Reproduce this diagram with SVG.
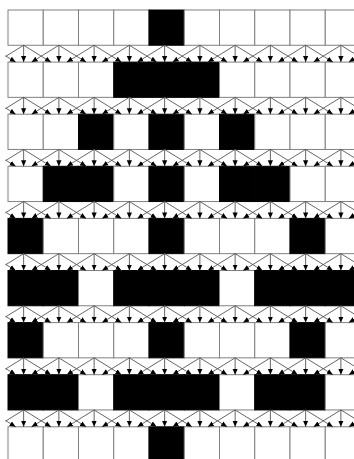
<svg xmlns="http://www.w3.org/2000/svg" xmlns:xlink="http://www.w3.org/1999/xlink" width="354" height="459" viewBox="0 0 354 459">
<style>
rect.w{fill:#fff;stroke:#808080;stroke-width:1}
rect.b{fill:#000;stroke:#000;stroke-width:1}
#band line{stroke:#555;stroke-width:0.9;marker-end:url(#ah)}
</style>
<defs>
<marker id="ah" markerWidth="6" markerHeight="6" refX="6" refY="3" orient="auto" markerUnits="userSpaceOnUse"><path d="M0,0.4L6,3L0,5.6z" fill="#000"/></marker>
<clipPath id="clip"><rect x="5.5" y="0" width="349" height="459"/></clipPath>
<g id="band">
<line x1="23.625" y1="0" x2="23.625" y2="16.85"/>
<line x1="58.875" y1="0" x2="58.875" y2="16.85"/>
<line x1="94.125" y1="0" x2="94.125" y2="16.85"/>
<line x1="129.375" y1="0" x2="129.375" y2="16.85"/>
<line x1="164.625" y1="0" x2="164.625" y2="16.85"/>
<line x1="199.875" y1="0" x2="199.875" y2="16.85"/>
<line x1="235.125" y1="0" x2="235.125" y2="16.85"/>
<line x1="270.375" y1="0" x2="270.375" y2="16.85"/>
<line x1="305.625" y1="0" x2="305.625" y2="16.85"/>
<line x1="340.875" y1="0" x2="340.875" y2="16.85"/>
<line x1="-11.625" y1="0" x2="15.625" y2="16.85"/>
<line x1="23.625" y1="0" x2="50.875" y2="16.85"/>
<line x1="58.875" y1="0" x2="86.125" y2="16.85"/>
<line x1="94.125" y1="0" x2="121.375" y2="16.85"/>
<line x1="129.375" y1="0" x2="156.625" y2="16.85"/>
<line x1="164.625" y1="0" x2="191.875" y2="16.85"/>
<line x1="199.875" y1="0" x2="227.125" y2="16.85"/>
<line x1="235.125" y1="0" x2="262.375" y2="16.85"/>
<line x1="270.375" y1="0" x2="297.625" y2="16.85"/>
<line x1="305.625" y1="0" x2="332.875" y2="16.85"/>
<line x1="340.875" y1="0" x2="368.125" y2="16.85"/>
<line x1="23.625" y1="0" x2="-3.625" y2="16.85"/>
<line x1="58.875" y1="0" x2="31.625" y2="16.85"/>
<line x1="94.125" y1="0" x2="66.875" y2="16.85"/>
<line x1="129.375" y1="0" x2="102.125" y2="16.85"/>
<line x1="164.625" y1="0" x2="137.375" y2="16.85"/>
<line x1="199.875" y1="0" x2="172.625" y2="16.85"/>
<line x1="235.125" y1="0" x2="207.875" y2="16.85"/>
<line x1="270.375" y1="0" x2="243.125" y2="16.85"/>
<line x1="305.625" y1="0" x2="278.375" y2="16.85"/>
<line x1="340.875" y1="0" x2="313.625" y2="16.85"/>
<line x1="376.125" y1="0" x2="348.875" y2="16.85"/>
</g>
</defs>
<rect width="354" height="459" fill="#fff"/>
<g id="cells">
<g id="r0c0"><rect class="w" x="8" y="10" width="35.25" height="35.25"/></g>
<g id="r0c1"><rect class="w" x="43.25" y="10" width="35.25" height="35.25"/></g>
<g id="r0c2"><rect class="w" x="78.5" y="10" width="35.25" height="35.25"/></g>
<g id="r0c3"><rect class="w" x="113.75" y="10" width="35.25" height="35.25"/></g>
<g id="r0c4"><rect class="b" x="149" y="10" width="35.25" height="35.25"/></g>
<g id="r0c5"><rect class="w" x="184.25" y="10" width="35.25" height="35.25"/></g>
<g id="r0c6"><rect class="w" x="219.5" y="10" width="35.25" height="35.25"/></g>
<g id="r0c7"><rect class="w" x="254.75" y="10" width="35.25" height="35.25"/></g>
<g id="r0c8"><rect class="w" x="290" y="10" width="35.25" height="35.25"/></g>
<g id="r0c9"><rect class="w" x="325.25" y="10" width="35.25" height="35.25"/></g>
<g id="r1c0"><rect class="w" x="8" y="62.1" width="35.25" height="35.25"/></g>
<g id="r1c1"><rect class="w" x="43.25" y="62.1" width="35.25" height="35.25"/></g>
<g id="r1c2"><rect class="w" x="78.5" y="62.1" width="35.25" height="35.25"/></g>
<g id="r1c3"><rect class="b" x="113.75" y="62.1" width="35.25" height="35.25"/></g>
<g id="r1c4"><rect class="b" x="149" y="62.1" width="35.25" height="35.25"/></g>
<g id="r1c5"><rect class="b" x="184.25" y="62.1" width="35.25" height="35.25"/></g>
<g id="r1c6"><rect class="w" x="219.5" y="62.1" width="35.25" height="35.25"/></g>
<g id="r1c7"><rect class="w" x="254.75" y="62.1" width="35.25" height="35.25"/></g>
<g id="r1c8"><rect class="w" x="290" y="62.1" width="35.25" height="35.25"/></g>
<g id="r1c9"><rect class="w" x="325.25" y="62.1" width="35.25" height="35.25"/></g>
<g id="r2c0"><rect class="w" x="8" y="114.2" width="35.25" height="35.25"/></g>
<g id="r2c1"><rect class="w" x="43.25" y="114.2" width="35.25" height="35.25"/></g>
<g id="r2c2"><rect class="b" x="78.5" y="114.2" width="35.25" height="35.25"/></g>
<g id="r2c3"><rect class="w" x="113.75" y="114.2" width="35.25" height="35.25"/></g>
<g id="r2c4"><rect class="b" x="149" y="114.2" width="35.25" height="35.25"/></g>
<g id="r2c5"><rect class="w" x="184.25" y="114.2" width="35.25" height="35.25"/></g>
<g id="r2c6"><rect class="b" x="219.5" y="114.2" width="35.25" height="35.25"/></g>
<g id="r2c7"><rect class="w" x="254.75" y="114.2" width="35.25" height="35.25"/></g>
<g id="r2c8"><rect class="w" x="290" y="114.2" width="35.25" height="35.25"/></g>
<g id="r2c9"><rect class="w" x="325.25" y="114.2" width="35.25" height="35.25"/></g>
<g id="r3c0"><rect class="w" x="8" y="166.3" width="35.25" height="35.25"/></g>
<g id="r3c1"><rect class="b" x="43.25" y="166.3" width="35.25" height="35.25"/></g>
<g id="r3c2"><rect class="b" x="78.5" y="166.3" width="35.25" height="35.25"/></g>
<g id="r3c3"><rect class="w" x="113.75" y="166.3" width="35.25" height="35.25"/></g>
<g id="r3c4"><rect class="b" x="149" y="166.3" width="35.25" height="35.25"/></g>
<g id="r3c5"><rect class="w" x="184.25" y="166.3" width="35.25" height="35.25"/></g>
<g id="r3c6"><rect class="b" x="219.5" y="166.3" width="35.25" height="35.25"/></g>
<g id="r3c7"><rect class="b" x="254.75" y="166.3" width="35.25" height="35.25"/></g>
<g id="r3c8"><rect class="w" x="290" y="166.3" width="35.25" height="35.25"/></g>
<g id="r3c9"><rect class="w" x="325.25" y="166.3" width="35.25" height="35.25"/></g>
<g id="r4c0"><rect class="b" x="8" y="218.4" width="35.25" height="35.25"/></g>
<g id="r4c1"><rect class="w" x="43.25" y="218.4" width="35.25" height="35.25"/></g>
<g id="r4c2"><rect class="w" x="78.5" y="218.4" width="35.25" height="35.25"/></g>
<g id="r4c3"><rect class="w" x="113.75" y="218.4" width="35.25" height="35.25"/></g>
<g id="r4c4"><rect class="b" x="149" y="218.4" width="35.25" height="35.25"/></g>
<g id="r4c5"><rect class="w" x="184.25" y="218.4" width="35.25" height="35.25"/></g>
<g id="r4c6"><rect class="w" x="219.5" y="218.4" width="35.25" height="35.25"/></g>
<g id="r4c7"><rect class="w" x="254.75" y="218.4" width="35.25" height="35.25"/></g>
<g id="r4c8"><rect class="b" x="290" y="218.4" width="35.25" height="35.25"/></g>
<g id="r4c9"><rect class="w" x="325.25" y="218.4" width="35.25" height="35.25"/></g>
<g id="r5c0"><rect class="b" x="8" y="270.5" width="35.25" height="35.25"/></g>
<g id="r5c1"><rect class="b" x="43.25" y="270.5" width="35.25" height="35.25"/></g>
<g id="r5c2"><rect class="w" x="78.5" y="270.5" width="35.25" height="35.25"/></g>
<g id="r5c3"><rect class="b" x="113.75" y="270.5" width="35.25" height="35.25"/></g>
<g id="r5c4"><rect class="b" x="149" y="270.5" width="35.25" height="35.25"/></g>
<g id="r5c5"><rect class="b" x="184.25" y="270.5" width="35.25" height="35.25"/></g>
<g id="r5c6"><rect class="w" x="219.5" y="270.5" width="35.25" height="35.25"/></g>
<g id="r5c7"><rect class="b" x="254.75" y="270.5" width="35.25" height="35.25"/></g>
<g id="r5c8"><rect class="b" x="290" y="270.5" width="35.25" height="35.25"/></g>
<g id="r5c9"><rect class="b" x="325.25" y="270.5" width="35.25" height="35.25"/></g>
<g id="r6c0"><rect class="b" x="8" y="322.6" width="35.25" height="35.25"/></g>
<g id="r6c1"><rect class="w" x="43.25" y="322.6" width="35.25" height="35.25"/></g>
<g id="r6c2"><rect class="w" x="78.5" y="322.6" width="35.25" height="35.25"/></g>
<g id="r6c3"><rect class="w" x="113.75" y="322.6" width="35.25" height="35.25"/></g>
<g id="r6c4"><rect class="b" x="149" y="322.6" width="35.25" height="35.25"/></g>
<g id="r6c5"><rect class="w" x="184.25" y="322.6" width="35.25" height="35.25"/></g>
<g id="r6c6"><rect class="w" x="219.5" y="322.6" width="35.25" height="35.25"/></g>
<g id="r6c7"><rect class="w" x="254.75" y="322.6" width="35.25" height="35.25"/></g>
<g id="r6c8"><rect class="b" x="290" y="322.6" width="35.25" height="35.25"/></g>
<g id="r6c9"><rect class="w" x="325.25" y="322.6" width="35.25" height="35.25"/></g>
<g id="r7c0"><rect class="b" x="8" y="374.7" width="35.25" height="35.25"/></g>
<g id="r7c1"><rect class="b" x="43.25" y="374.7" width="35.25" height="35.25"/></g>
<g id="r7c2"><rect class="w" x="78.5" y="374.7" width="35.25" height="35.25"/></g>
<g id="r7c3"><rect class="b" x="113.75" y="374.7" width="35.25" height="35.25"/></g>
<g id="r7c4"><rect class="b" x="149" y="374.7" width="35.25" height="35.25"/></g>
<g id="r7c5"><rect class="b" x="184.25" y="374.7" width="35.25" height="35.25"/></g>
<g id="r7c6"><rect class="w" x="219.5" y="374.7" width="35.25" height="35.25"/></g>
<g id="r7c7"><rect class="b" x="254.75" y="374.7" width="35.25" height="35.25"/></g>
<g id="r7c8"><rect class="b" x="290" y="374.7" width="35.25" height="35.25"/></g>
<g id="r7c9"><rect class="w" x="325.25" y="374.7" width="35.25" height="35.25"/></g>
<g id="r8c0"><rect class="w" x="8" y="426.8" width="35.25" height="35.25"/></g>
<g id="r8c1"><rect class="w" x="43.25" y="426.8" width="35.25" height="35.25"/></g>
<g id="r8c2"><rect class="w" x="78.5" y="426.8" width="35.25" height="35.25"/></g>
<g id="r8c3"><rect class="w" x="113.75" y="426.8" width="35.25" height="35.25"/></g>
<g id="r8c4"><rect class="b" x="149" y="426.8" width="35.25" height="35.25"/></g>
<g id="r8c5"><rect class="w" x="184.25" y="426.8" width="35.25" height="35.25"/></g>
<g id="r8c6"><rect class="w" x="219.5" y="426.8" width="35.25" height="35.25"/></g>
<g id="r8c7"><rect class="w" x="254.75" y="426.8" width="35.25" height="35.25"/></g>
<g id="r8c8"><rect class="w" x="290" y="426.8" width="35.25" height="35.25"/></g>
<g id="r8c9"><rect class="w" x="325.25" y="426.8" width="35.25" height="35.25"/></g>
</g>
<g id="connectors" clip-path="url(#clip)">
<use xlink:href="#band" transform="translate(0,45.25)"/>
<use xlink:href="#band" transform="translate(0,97.35)"/>
<use xlink:href="#band" transform="translate(0,149.45)"/>
<use xlink:href="#band" transform="translate(0,201.55)"/>
<use xlink:href="#band" transform="translate(0,253.65)"/>
<use xlink:href="#band" transform="translate(0,305.75)"/>
<use xlink:href="#band" transform="translate(0,357.85)"/>
<use xlink:href="#band" transform="translate(0,409.95)"/>
</g>
</svg>
